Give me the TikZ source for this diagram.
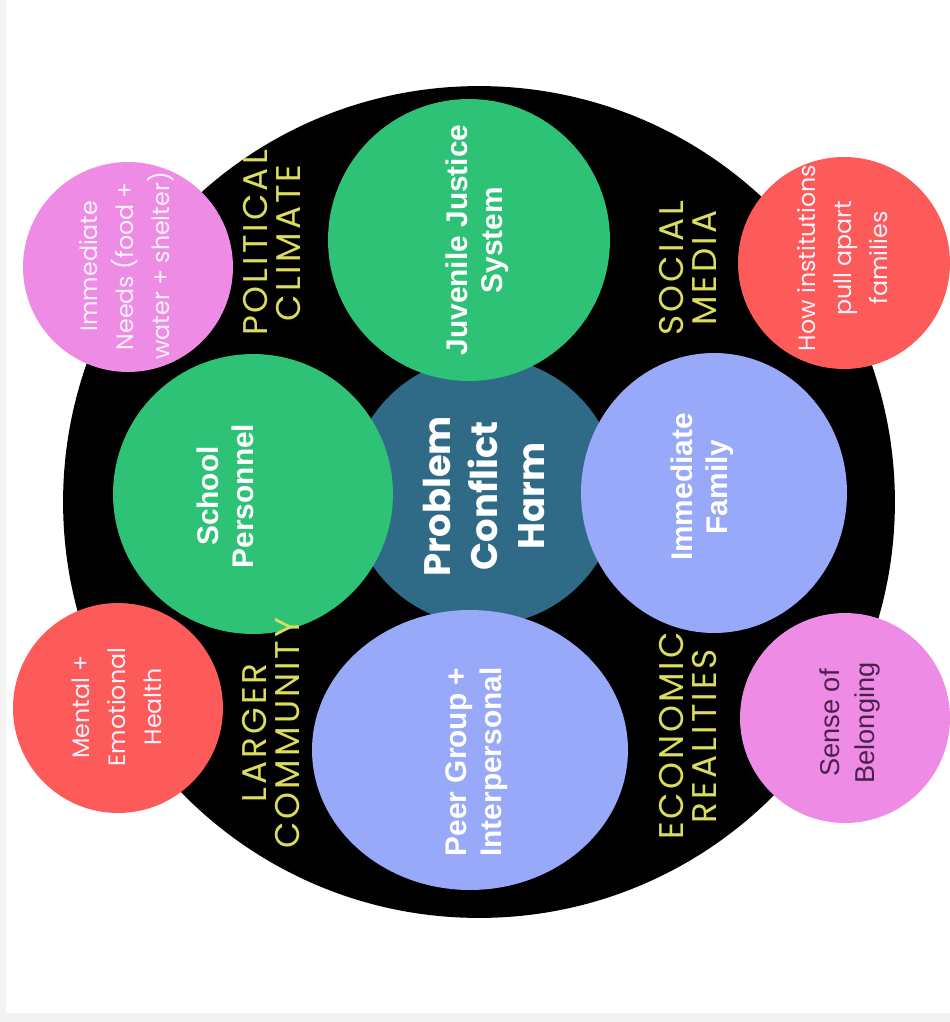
\documentclass[tikz,border=0pt]{standalone}
\usepackage{fontspec}
\setmainfont{Liberation Sans}
\newfontfamily\popfont{Poppins}
\newfontfamily\popwide[LetterSpace=9]{Poppins}
\usetikzlibrary{shapes.geometric}

\definecolor{edgegray}{HTML}{F3F3F3}
\definecolor{justgreen}{HTML}{2DC276}
\definecolor{coreteal}{HTML}{2F6A86}
\definecolor{famblue}{HTML}{97A9F8}
\definecolor{needpink}{HTML}{EE8BE4}
\definecolor{harmred}{HTML}{FD5A5A}
\definecolor{ctxyellow}{HTML}{DCDD5C}
\definecolor{belongtxt}{HTML}{4B1F4E}

\tikzset{
	bubble/.style={circle, inner sep=0pt, minimum size=#1},
	oval/.style 2 args={ellipse, inner sep=0pt, minimum width=#1, minimum height=#2},
	rtext/.style={rotate=90, align=center, inner sep=0pt},
	maintext/.style={rtext, white, font=\fontsize{17}{20}\selectfont\bfseries},
	coretext/.style={rtext, white, font=\popfont\fontsize{21}{26.5}\selectfont\bfseries},
	smalltext/.style={rtext, white!88!needpink, font=\popfont\fontsize{13.5}{20.5}\selectfont},
	ctxtext/.style={rtext, ctxyellow, font=\popwide\fontsize{19.5}{18.5}\selectfont}
}

\begin{document}
\begin{tikzpicture}[x=0.02cm, y=-0.02cm]
		\useasboundingbox (0,0) rectangle (950,1022);
		\fill[white] (0,0) rectangle (950,1022);
		\fill[edgegray] (0,0) rectangle (6,1022);
		\fill[edgegray] (0,1013) rectangle (950,1022);
		
		% outer ring and core
		\node [bubble=16.64cm, fill=black] (ring) at (479,502) {};
		\node [bubble=5.36cm, fill=coreteal] (core) at (484,491) {};
		
		% four inner circles
		\node [bubble=5.64cm, fill=justgreen] (juvenile) at (469,240) {};
		\node [bubble=5.6cm, fill=justgreen] (school) at (253,494) {};
		\node [oval={5.32cm}{5.6cm}, fill=famblue] (family) at (714,493) {};
		\node [oval={6.32cm}{5.6cm}, fill=famblue] (peer) at (470,750) {};
		
		% four outer circles
		\node [bubble=4.2cm, fill=needpink] (needs) at (128,267) {};
		\node [bubble=4.24cm, fill=harmred] (institutions) at (844,263) {};
		\node [bubble=4.2cm, fill=harmred] (mental) at (118,708) {};
		\node [bubble=4.2cm, fill=needpink] (belonging) at (845,718) {};
		
		% texts
		\node [coretext] (core-t) at (484,496) {Problem\\Conflict\\Harm};
		\node [maintext] (juvenile-t) at (477,240) {Juvenile Justice\\System};
		\node [maintext] (school-t) at (225,496) {School\\Personnel};
		\node [maintext] (family-t) at (702,487) {Immediate\\Family};
		\node [maintext] (peer-t) at (477,762) {Peer Group +\\Interpersonal};
		
		\node [smalltext] (needs-t) at (127,266) {Immediate\\Needs (food +\\water + shelter)};
		\node [smalltext] (institutions-t) at (843,258) {How institutions\\pull apart\\families};
		\node [smalltext] (mental-t) at (117,707) {Mental +\\Emotional\\Health};
		\node [rtext, belongtxt, font=\fontsize{15.5}{20}\selectfont] (belonging-t) at (850,723) {Sense of\\Belonging};
		
		\node [ctxtext] (political) at (272,243) {POLITICAL\\CLIMATE};
		\node [ctxtext] (social) at (688,268) {SOCIAL\\MEDIA};
		\node [ctxtext] (larger) at (271,733) {LARGER\\COMMUNITY};
		\node [ctxtext] (economic) at (688,736) {ECONOMIC\\REALITIES};
		
		\end{tikzpicture}
\end{document}
